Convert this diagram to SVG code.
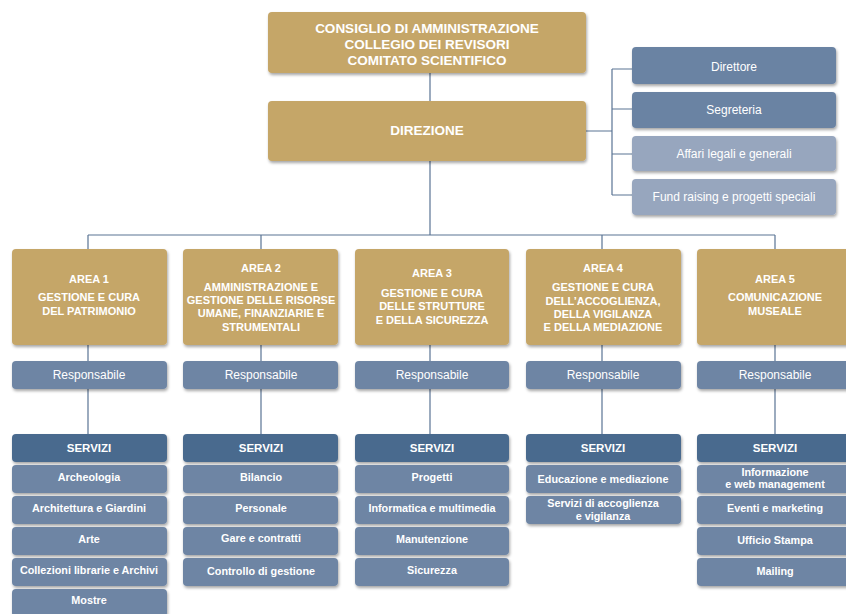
<svg xmlns="http://www.w3.org/2000/svg" width="846" height="614" viewBox="0 0 846 614">
<defs>
<filter id="sh" x="-10%" y="-10%" width="130%" height="140%">
<feDropShadow dx="1" dy="2" stdDeviation="1.5" flood-color="#000" flood-opacity="0.35"/>
</filter>
<style>
.gold{fill:#c5a668;filter:url(#sh)}
.dk{fill:#6b83a3;filter:url(#sh)}
.lt{fill:#97a6be;filter:url(#sh)}
.hd{fill:#4a6a8e;filter:url(#sh)}
.it{fill:#6e85a4;filter:url(#sh)}
text{font-family:"Liberation Sans",Arial,sans-serif;fill:#fff;text-anchor:middle}
.t1{font-size:13.5px;font-weight:bold}
.ta{font-size:11px;font-weight:bold}
.tr{font-size:12px}
.th{font-size:11.5px;font-weight:bold}
.ti{font-size:10.8px;font-weight:bold}
.ln{stroke:#5a7494;stroke-width:1.2;fill:none}
</style>
</defs>
<rect width="846" height="614" fill="#fff"/>
<g id="connectors">
<path class="ln" d="M430 73V101M430 161V235M88 235H775M88 235V249M261 235V249M602 235V249M775 235V249"/>
<path class="ln" d="M586 131H612M612 69V195M612 69H632M612 109H632M612 154H632M612 195H632"/>
<path class="ln" d="M88 345V361M261 345V361M430 345V361M602 345V361M775 345V361"/>
<path class="ln" d="M88 389V434M261 389V434M430 389V434M602 389V434M775 389V434"/>
</g>
<g id="top">
<rect class="gold" x="268" y="12" width="318" height="61" rx="4"/>
<text class="t1" x="427" y="33">CONSIGLIO DI AMMINISTRAZIONE</text>
<text class="t1" x="427" y="49">COLLEGIO DEI REVISORI</text>
<text class="t1" x="427" y="65">COMITATO SCIENTIFICO</text>
</g>
<g id="direzione">
<rect class="gold" x="268" y="101" width="318" height="60" rx="4"/>
<text class="t1" x="427" y="135">DIREZIONE</text>
</g>
<g id="direttore"><rect class="dk" x="632" y="47" width="204" height="37" rx="4"/><text class="tr" x="734" y="71">Direttore</text></g>
<g id="segreteria"><rect class="dk" x="632" y="92" width="204" height="36" rx="4"/><text class="tr" x="734" y="114">Segreteria</text></g>
<g id="affari"><rect class="lt" x="632" y="136" width="204" height="35" rx="4"/><text class="tr" x="734" y="158">Affari legali e generali</text></g>
<g id="fund"><rect class="lt" x="632" y="179" width="204" height="36" rx="4"/><text class="tr" x="734" y="201">Fund raising e progetti speciali</text></g>

<g id="area1">
<rect class="gold" x="12" y="249" width="155" height="96" rx="4"/>
<text class="ta" x="89" y="283">AREA 1</text>
<text class="ta" x="89" y="301">GESTIONE E CURA</text>
<text class="ta" x="89" y="315">DEL PATRIMONIO</text>
</g>
<g id="area2">
<rect class="gold" x="183" y="249" width="155" height="96" rx="4"/>
<text class="ta" x="261" y="272">AREA 2</text>
<text class="ta" x="261" y="291">AMMINISTRAZIONE E</text>
<text class="ta" x="261" y="304">GESTIONE DELLE RISORSE</text>
<text class="ta" x="261" y="317">UMANE, FINANZIARIE E</text>
<text class="ta" x="261" y="331">STRUMENTALI</text>
</g>
<g id="area3">
<rect class="gold" x="355" y="249" width="154" height="96" rx="4"/>
<text class="ta" x="432" y="277">AREA 3</text>
<text class="ta" x="432" y="297">GESTIONE E CURA</text>
<text class="ta" x="432" y="310">DELLE STRUTTURE</text>
<text class="ta" x="432" y="324">E DELLA SICUREZZA</text>
</g>
<g id="area4">
<rect class="gold" x="526" y="249" width="155" height="96" rx="4"/>
<text class="ta" x="603" y="272">AREA 4</text>
<text class="ta" x="603" y="291">GESTIONE E CURA</text>
<text class="ta" x="603" y="305">DELL’ACCOGLIENZA,</text>
<text class="ta" x="603" y="318">DELLA VIGILANZA</text>
<text class="ta" x="603" y="331">E DELLA MEDIAZIONE</text>
</g>
<g id="area5">
<rect class="gold" x="697" y="249" width="155" height="96" rx="4"/>
<text class="ta" x="775" y="283">AREA 5</text>
<text class="ta" x="775" y="301">COMUNICAZIONE</text>
<text class="ta" x="775" y="315">MUSEALE</text>
</g>

<g id="resp1"><rect class="it" x="12" y="361" width="155" height="28" rx="4"/><text class="tr" x="89" y="379">Responsabile</text></g>
<g id="resp2"><rect class="it" x="183" y="361" width="155" height="28" rx="4"/><text class="tr" x="261" y="379">Responsabile</text></g>
<g id="resp3"><rect class="it" x="355" y="361" width="154" height="28" rx="4"/><text class="tr" x="432" y="379">Responsabile</text></g>
<g id="resp4"><rect class="it" x="526" y="361" width="155" height="28" rx="4"/><text class="tr" x="603" y="379">Responsabile</text></g>
<g id="resp5"><rect class="it" x="697" y="361" width="155" height="28" rx="4"/><text class="tr" x="775" y="379">Responsabile</text></g>

<g id="servizi1">
<rect class="hd" x="12" y="434" width="155" height="28" rx="4"/><text class="th" x="89" y="452">SERVIZI</text>
<rect class="it" x="12" y="465" width="155" height="28" rx="4"/><text class="ti" x="89" y="481">Archeologia</text>
<rect class="it" x="12" y="496" width="155" height="28" rx="4"/><text class="ti" x="89" y="512">Architettura e Giardini</text>
<rect class="it" x="12" y="527" width="155" height="28" rx="4"/><text class="ti" x="89" y="543">Arte</text>
<rect class="it" x="12" y="558" width="155" height="28" rx="4"/><text class="ti" x="89" y="574">Collezioni librarie e Archivi</text>
<rect class="it" x="12" y="589" width="155" height="28" rx="4"/><text class="ti" x="89" y="604">Mostre</text>
</g>
<g id="servizi2">
<rect class="hd" x="183" y="434" width="155" height="28" rx="4"/><text class="th" x="261" y="452">SERVIZI</text>
<rect class="it" x="183" y="465" width="155" height="28" rx="4"/><text class="ti" x="261" y="481">Bilancio</text>
<rect class="it" x="183" y="496" width="155" height="28" rx="4"/><text class="ti" x="261" y="512">Personale</text>
<rect class="it" x="183" y="527" width="155" height="28" rx="4"/><text class="ti" x="261" y="542">Gare e contratti</text>
<rect class="it" x="183" y="558" width="155" height="28" rx="4"/><text class="ti" x="261" y="575">Controllo di gestione</text>
</g>
<g id="servizi3">
<rect class="hd" x="355" y="434" width="154" height="28" rx="4"/><text class="th" x="432" y="452">SERVIZI</text>
<rect class="it" x="355" y="465" width="154" height="28" rx="4"/><text class="ti" x="432" y="481">Progetti</text>
<rect class="it" x="355" y="496" width="154" height="28" rx="4"/><text class="ti" x="432" y="512">Informatica e multimedia</text>
<rect class="it" x="355" y="527" width="154" height="28" rx="4"/><text class="ti" x="432" y="543">Manutenzione</text>
<rect class="it" x="355" y="558" width="154" height="28" rx="4"/><text class="ti" x="432" y="574">Sicurezza</text>
</g>
<g id="servizi4">
<rect class="hd" x="526" y="434" width="155" height="28" rx="4"/><text class="th" x="603" y="452">SERVIZI</text>
<rect class="it" x="526" y="465" width="155" height="28" rx="4"/><text class="ti" x="603" y="483">Educazione e mediazione</text>
<rect class="it" x="526" y="496" width="155" height="28" rx="4"/><text class="ti" x="603" y="507">Servizi di accoglienza</text><text class="ti" x="603" y="520">e vigilanza</text>
</g>
<g id="servizi5">
<rect class="hd" x="697" y="434" width="155" height="28" rx="4"/><text class="th" x="775" y="452">SERVIZI</text>
<rect class="it" x="697" y="465" width="155" height="28" rx="4"/><text class="ti" x="775" y="476">Informazione</text><text class="ti" x="775" y="488">e web management</text>
<rect class="it" x="697" y="496" width="155" height="28" rx="4"/><text class="ti" x="775" y="512">Eventi e marketing</text>
<rect class="it" x="697" y="527" width="155" height="28" rx="4"/><text class="ti" x="775" y="544">Ufficio Stampa</text>
<rect class="it" x="697" y="558" width="155" height="28" rx="4"/><text class="ti" x="775" y="575">Mailing</text>
</g>
</svg>
